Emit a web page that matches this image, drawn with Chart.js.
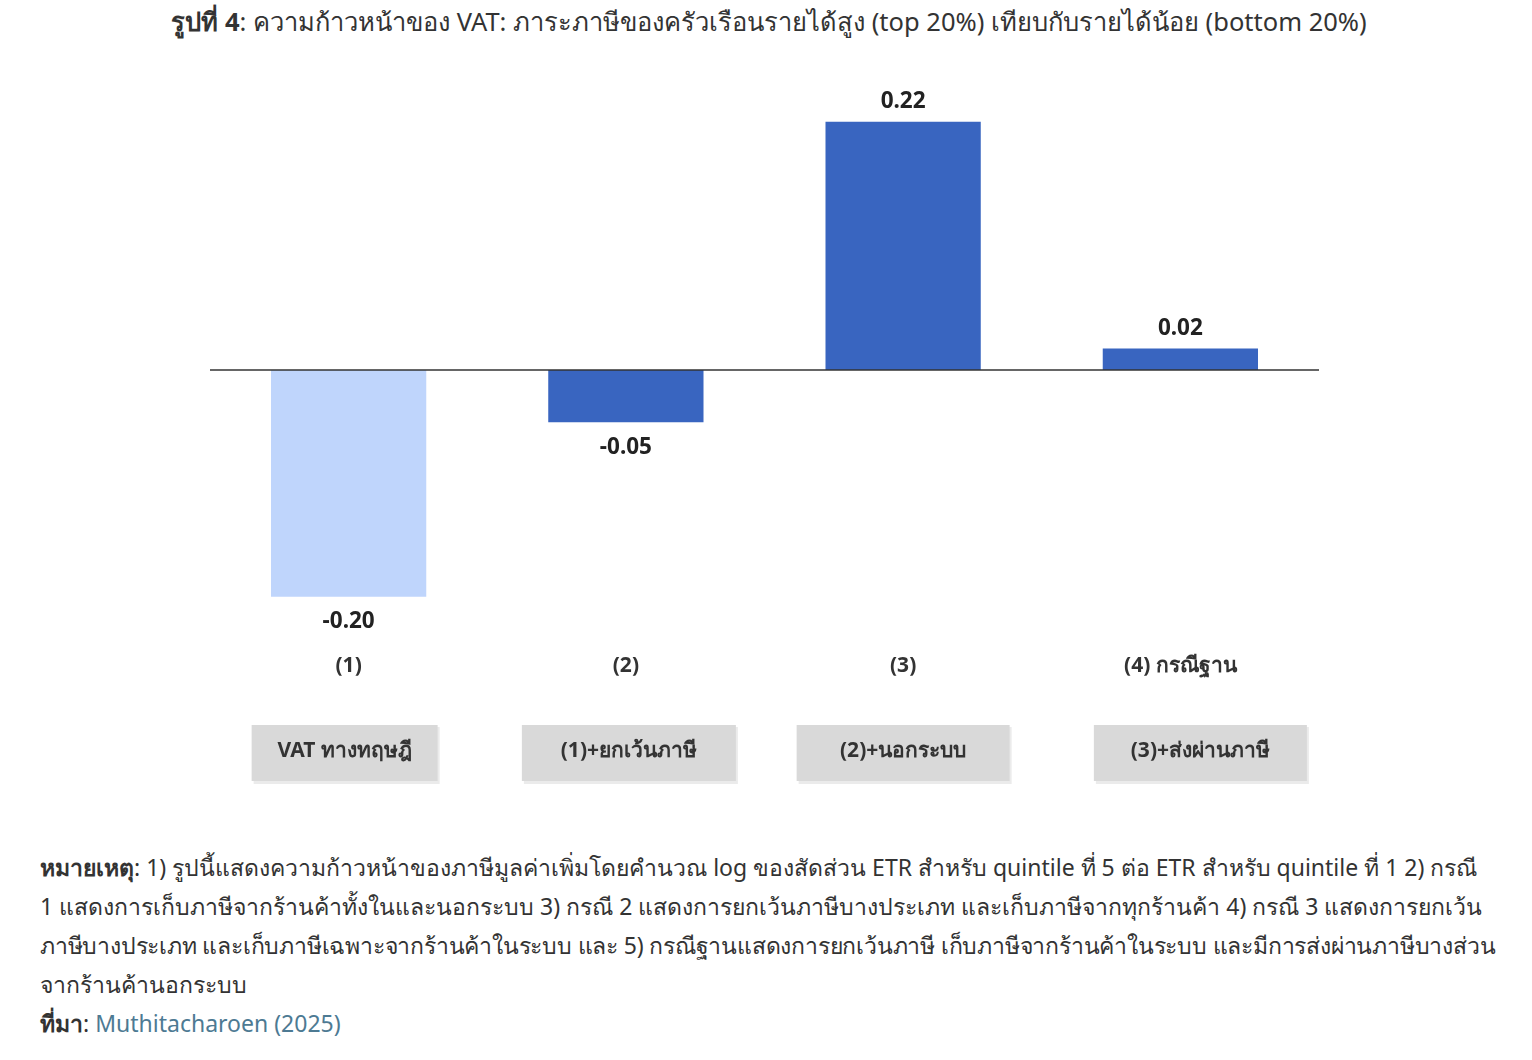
<!DOCTYPE html>
<html>
<head>
<meta charset="utf-8">
<script src="https://cdn.jsdelivr.net/npm/chart.js@4.4.1/dist/chart.umd.min.js"></script>
<style>
  body { margin: 0; background: #fff; font-family: "Noto Sans", sans-serif; color: #333; }
  #title { position: absolute; top: 2px; left: 0; width: 1538px; text-align: center; font-size: 25.5px; white-space: nowrap; }
  #wrap { position: absolute; top: 50px; left: 0; width: 1532px; height: 760px; }
  #notes { position: absolute; top: 848px; left: 40px; font-size: 23px; line-height: 39px; white-space: nowrap; color: #333; }
  #notes a { color: #4d7a93; text-decoration: none; }
</style>
</head>
<body>
<div id="title"><b>รูปที่ 4</b>: ความก้าวหน้าของ VAT: ภาระภาษีของครัวเรือนรายได้สูง (top 20%) เทียบกับรายได้น้อย (bottom 20%)</div>
<div id="wrap"><canvas id="chart"></canvas></div>
<div id="notes">
<b>หมายเหตุ</b>: 1) รูปนี้แสดงความก้าวหน้าของภาษีมูลค่าเพิ่มโดยคำนวณ log ของสัดส่วน ETR สำหรับ quintile ที่ 5 ต่อ ETR สำหรับ quintile ที่ 1 2) กรณี<br>
1 แสดงการเก็บภาษีจากร้านค้าทั้งในและนอกระบบ 3) กรณี 2 แสดงการยกเว้นภาษีบางประเภท และเก็บภาษีจากทุกร้านค้า 4) กรณี 3 แสดงการยกเว้น<br>
<span style="letter-spacing:-0.2px">ภาษีบางประเภท และเก็บภาษีเฉพาะจากร้านค้าในระบบ และ 5) กรณีฐานแสดงการยกเว้นภาษี เก็บภาษีจากร้านค้าในระบบ และมีการส่งผ่านภาษีบางส่วน</span><br>
จากร้านค้านอกระบบ<br>
<b>ที่มา</b>: <a>Muthitacharoen (2025)</a>
</div>
<script>
// bar values
let categories = ['(1)', '(2)', '(3)', '(4) กรณีฐาน'];
let scenarios = ['VAT ทางทฤษฎี', '(1)+ยกเว้นภาษี', '(2)+นอกระบบ', '(3)+ส่งผ่านภาษี'];
let values = [-0.20, -0.046, 0.219, 0.019];
let valueLabels = ['-0.20', '-0.05', '0.22', '0.02'];
let barColors = ['#bfd5fc', '#3965c0', '#3965c0', '#3965c0'];

// grey box sizes / nudges (they aren't exactly centred under the bars)
let boxWidths = [186, 214, 213, 213];
let boxShift = [-4, 3, 0, 20];

const extras = {
    id: 'extras',
    afterDatasetsDraw(chart) {
        let ctx = chart.ctx;
        let x = chart.scales.x, y = chart.scales.y;
        let area = chart.chartArea;
        let zero = y.getPixelForValue(0);
        ctx.save();
        // zero line
        ctx.strokeStyle = '#333';
        ctx.lineWidth = 1.5;
        ctx.beginPath();
        ctx.moveTo(area.left, zero);
        ctx.lineTo(area.right, zero);
        ctx.stroke();

        ctx.textAlign = 'center';
        ctx.textBaseline = 'middle';
        let meta = chart.getDatasetMeta(0);
        for (let i = 0; i < values.length; i++) {
            let bar = meta.data[i];
            // value labels
            ctx.fillStyle = '#222';
            ctx.font = 'bold 22.5px "Noto Sans", sans-serif';
            let ly = values[i] >= 0 ? bar.y - 20 : bar.y + 25;
            ctx.fillText(valueLabels[i], bar.x, ly);

            // category labels
            let cx = x.getPixelForValue(i);
            ctx.fillStyle = '#333';
            ctx.font = 'bold 21px "Noto Sans", sans-serif';
            ctx.fillText(categories[i], cx, 616);

            // grey boxes
            let w = boxWidths[i];
            let bx = cx + boxShift[i];
            ctx.fillStyle = '#ebebeb';
            ctx.fillRect(bx - w / 2 + 2, 677, w, 57);
            ctx.fillStyle = '#d9d9d9';
            ctx.fillRect(bx - w / 2, 675, w, 56);
            ctx.fillStyle = '#333';
            ctx.font = 'bold 21px "Noto Sans", sans-serif';
            ctx.fillText(scenarios[i], bx, 701);
        }
        ctx.restore();
    }
};

new Chart(document.getElementById('chart'), {
    type: 'bar',
    data: {
        labels: categories,
        datasets: [{
            data: values,
            backgroundColor: barColors,
            barPercentage: 0.56,
            categoryPercentage: 1
        }]
    },
    options: {
        responsive: true,
        maintainAspectRatio: false,
        animation: false,
        layout: { padding: { left: 210, right: 213, top: 48, bottom: 168 } },
        plugins: { legend: { display: false }, tooltip: { enabled: false } },
        scales: {
            x: { display: false },
            y: { display: false, min: -0.24, max: 0.24 }
        }
    },
    plugins: [extras]
});
</script>
</body>
</html>
